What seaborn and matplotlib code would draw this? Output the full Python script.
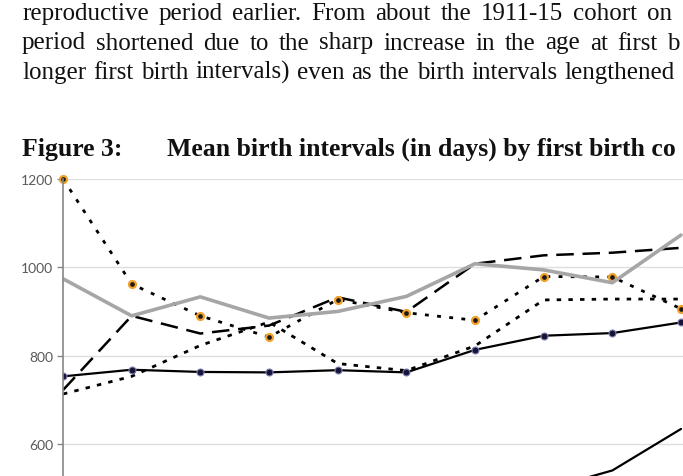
import numpy as np
import pandas as pd
import matplotlib.pyplot as plt
import seaborn as sns

# cohort positions (x tick labels are cut off in the reference)
cohort = list(range(10))

mean_solid = [753, 768, 763, 762, 767, 762, 813, 845, 851, 875]
mean_grey = [974, 890, 933, 885, 900, 934, 1008, 994, 965, 1073]
mean_dot_marked = [1200, 962, 890, 842, 927, 897, 880, 979, 978, 906]
mean_longdash = [722, 890, 850, 868, 932, 899, 1008, 1027, 1033, 1044]
mean_shortdot = [713, 753, 823, 876, 782, 766, 822, 926, 928, 928]
mean_low = [np.nan] * 7 + [496, 540, 634]

y_ticks = [600, 800, 1000, 1200]

# the page is cropped at the right, so only the visible part of each line
body_lines = [
    "reproductive period earlier. From about the 1911-15 cohort on",
    "period shortened due to the sharp increase in the age at first b",
    "longer first birth intervals) even as the birth intervals lengthened",
]
body_right = [672, 680, 675]   # right edge (px) of each justified line
fig_label = "Figure 3:"
fig_title = "Mean birth intervals (in days) by first birth co"

df = pd.DataFrame({
    'cohort': cohort,
    'solid': mean_solid,
    'grey': mean_grey,
    'dot_marked': mean_dot_marked,
    'longdash': mean_longdash,
    'shortdot': mean_shortdot,
    'low': mean_low,
})

sns.set_style('white')
plt.rcParams['font.family'] = ['Lato', 'DejaVu Sans']

W, H = 683, 477
fig = plt.figure(figsize=(W / 100, H / 100), dpi=100)

# axes deliberately run past the right and bottom edges (page is cropped)
left_px = 63
ax = fig.add_axes([left_px / W, -0.118, 686.7 / W, 0.7408])

sns.lineplot(data=df, x='cohort', y='longdash', ax=ax, color='black',
             linewidth=1.8, linestyle=(0, (7, 3.5)))
sns.lineplot(data=df, x='cohort', y='shortdot', ax=ax, color='black',
             linewidth=2, linestyle=(0, (1.6, 2.6)))
sns.lineplot(data=df, x='cohort', y='dot_marked', ax=ax, color='black',
             linewidth=2, linestyle=(0, (1.4, 3)), marker='o', markersize=5,
             markerfacecolor='#1a1a1a', markeredgecolor='#f2a22a',
             markeredgewidth=1.6, clip_on=False)
sns.lineplot(data=df, x='cohort', y='solid', ax=ax, color='black',
             linewidth=1.6, marker='o', markersize=5,
             markerfacecolor='#15153a', markeredgecolor='#8080b0',
             markeredgewidth=0.8)
sns.lineplot(data=df, x='cohort', y='low', ax=ax, color='black', linewidth=1.6)
sns.lineplot(data=df, x='cohort', y='grey', ax=ax, color='#a6a6a6',
             linewidth=2.6)

ax.set_xlim(0, 10)
ax.set_ylim(400, 1200)
ax.set_yticks(y_ticks)
ax.set_yticklabels([str(v) for v in y_ticks], color='#595959', fontsize=10)
ax.set_xticks([])
ax.set_xlabel('')
ax.set_ylabel('')
ax.yaxis.grid(True, color='#dedede', linewidth=1)
ax.set_axisbelow(True)
ax.tick_params(axis='y', length=4, width=1, color='#868686', pad=3, left=True)
for side in ['top', 'right', 'bottom']:
    ax.spines[side].set_visible(False)
ax.spines['left'].set_color('#868686')
ax.spines['left'].set_linewidth(1.2)

serif = ['Liberation Serif', 'DejaVu Serif']
renderer = fig.canvas.get_renderer()

# justified body text: place word by word with even gaps
for i, line in enumerate(body_lines):
    words = line.split(' ')
    y = 1 - (20 + 29.5 * i) / H
    texts, widths = [], []
    for w in words:
        t = fig.text(0, y, w, family=serif, fontsize=18, va='baseline',
                     ha='left', color='#111111')
        texts.append(t)
        widths.append(t.get_window_extent(renderer).width)
    gap = (body_right[i] - 22 - sum(widths)) / (len(words) - 1)
    x = 22
    for t, wd in zip(texts, widths):
        t.set_x(x / W)
        x += wd + gap

fig.text(22 / W, 1 - 156 / H, fig_label, family=serif, fontsize=18.5,
         fontweight='bold', va='baseline', ha='left', color='#111111')
fig.text(167 / W, 1 - 156 / H, fig_title, family=serif, fontsize=18.5,
         fontweight='bold', va='baseline', ha='left', color='#111111')

fig.savefig('out.png', dpi=100)
